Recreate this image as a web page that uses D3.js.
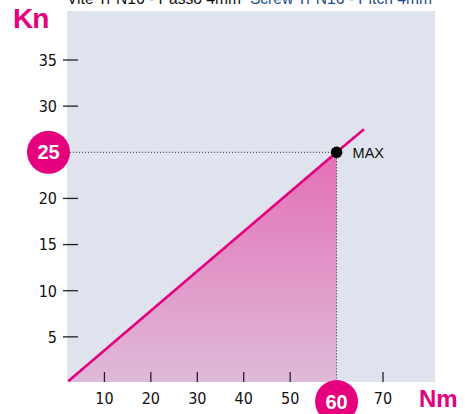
<!DOCTYPE html>
<html>
<head>
<meta charset="utf-8">
<script src="https://cdn.jsdelivr.net/npm/d3@7"></script>
<style>
  html, body { margin: 0; padding: 0; background: #ffffff; }
  svg { display: block; }
</style>
</head>
<body>
<svg id="chart" width="465" height="414"></svg>
<script>
// Load curve of the Tr N16 screw, pitch 4 mm: axial load (Kn) against torque (Nm)
const xTicks = [10, 20, 30, 40, 50, 70];
const yTicks = [5, 10, 15, 20, 30, 35];
const curveNm = [2.2, 60, 65.9];
const curveKn = [0.2, 25, 27.5];
const maxNm = 60;
const maxKn = 25;
const titleIt = "Vite Tr N16 - Passo 4mm";
const titleEn = "Screw Tr N16 - Pitch 4mm";

const W = 465, H = 414;
const plot = { left: 67, right: 435, top: 11, bottom: 382 };
const magenta = "#e5007d";
const narrow = "'Liberation Sans Narrow', 'Arial Narrow', 'DejaVu Sans Condensed', sans-serif";
const sans = "'Liberation Sans', Arial, Helvetica, sans-serif";

const svg = d3.select("#chart");

const x = d3.scaleLinear().domain([0, 70]).range([58, 383]);
const y = d3.scaleLinear().domain([0, 35]).range([383, 60]);

// Header (runs off the top edge)
const title = svg.append("text")
  .attr("x", 67).attr("y", 4)
  .attr("font-family", sans).attr("font-size", 15.6);
title.append("tspan").attr("fill", "#111").text(titleIt);
title.append("tspan").attr("fill", "#1d4f8c").attr("dx", 9).text(titleEn);

// Plot background
svg.append("rect")
  .attr("x", plot.left).attr("y", plot.top)
  .attr("width", plot.right - plot.left).attr("height", plot.bottom - plot.top)
  .attr("fill", "#dfe3ee");

svg.append("clipPath").attr("id", "plotClip")
  .append("rect")
  .attr("x", plot.left).attr("y", plot.top)
  .attr("width", plot.right - plot.left).attr("height", plot.bottom - plot.top);

// Gradient for the working area under the curve
const defs = svg.append("defs");
const grad = defs.append("linearGradient")
  .attr("id", "areaGrad").attr("x1", 0).attr("y1", 0).attr("x2", 0).attr("y2", 1);
grad.append("stop").attr("offset", "0%").attr("stop-color", "#e370b5");
grad.append("stop").attr("offset", "100%").attr("stop-color", "#dfbada");

const pts = curveNm.map((v, i) => [v, curveKn[i]]);
const areaPts = pts.filter(p => p[0] <= maxNm);

const g = svg.append("g").attr("clip-path", "url(#plotClip)");

g.append("path")
  .datum(areaPts)
  .attr("fill", "url(#areaGrad)")
  .attr("d", d3.area().x(d => x(d[0])).y0(y(0)).y1(d => y(d[1])));

// X axis tick marks (inside the plot, on the bottom edge)
svg.append("g").selectAll("line").data(xTicks).join("line")
  .attr("x1", d => x(d)).attr("x2", d => x(d))
  .attr("y1", plot.bottom - 10).attr("y2", plot.bottom)
  .attr("stroke", "#222").attr("stroke-width", 1.3);

svg.append("g").selectAll("text").data(xTicks).join("text")
  .attr("x", d => x(d)).attr("y", 404)
  .attr("text-anchor", "middle")
  .attr("font-family", narrow).attr("font-size", 16).attr("fill", "#111")
  .text(d => d);

// Y axis tick marks (straddling the left edge)
svg.append("g").selectAll("line").data(yTicks).join("line")
  .attr("x1", plot.left - 4).attr("x2", plot.left + 11)
  .attr("y1", d => y(d)).attr("y2", d => y(d))
  .attr("stroke", "#222").attr("stroke-width", 1.3);

svg.append("g").selectAll("text").data(yTicks).join("text")
  .attr("x", 57).attr("y", d => y(d) + 5.8)
  .attr("text-anchor", "end")
  .attr("font-family", narrow).attr("font-size", 16).attr("fill", "#111")
  .text(d => d);

// Dotted guides to the maximum point
svg.append("line")
  .attr("x1", 70).attr("x2", x(maxNm))
  .attr("y1", y(maxKn)).attr("y2", y(maxKn))
  .attr("stroke", "#333").attr("stroke-width", 1).attr("stroke-dasharray", "1,2");
svg.append("line")
  .attr("x1", x(maxNm)).attr("x2", x(maxNm))
  .attr("y1", y(maxKn)).attr("y2", 382)
  .attr("stroke", "#333").attr("stroke-width", 1).attr("stroke-dasharray", "1,2");

// Load curve
svg.append("path")
  .datum(pts)
  .attr("fill", "none")
  .attr("stroke", magenta).attr("stroke-width", 2.6)
  .attr("d", d3.line().x(d => x(d[0])).y(d => y(d[1])));

// Maximum point
svg.append("circle")
  .attr("cx", x(maxNm)).attr("cy", y(maxKn)).attr("r", 5.8)
  .attr("fill", "#000");
svg.append("text")
  .attr("x", x(maxNm) + 16).attr("y", y(maxKn) + 5.5)
  .attr("font-family", sans).attr("font-size", 14.5).attr("fill", "#111")
  .text("MAX");

// Highlighted values in badges
svg.append("circle").attr("cx", 48.5).attr("cy", y(maxKn)).attr("r", 21.5).attr("fill", magenta);
svg.append("text")
  .attr("x", 48.5).attr("y", y(maxKn) + 7.2)
  .attr("text-anchor", "middle")
  .attr("font-family", sans).attr("font-weight", "bold").attr("font-size", 20).attr("fill", "#fff")
  .text(maxKn);

svg.append("circle").attr("cx", x(maxNm)).attr("cy", 401.5).attr("r", 21.5).attr("fill", magenta);
svg.append("text")
  .attr("x", x(maxNm)).attr("y", 409)
  .attr("text-anchor", "middle")
  .attr("font-family", sans).attr("font-weight", "bold").attr("font-size", 20).attr("fill", "#fff")
  .text(maxNm);

// Axis units
svg.append("text")
  .attr("x", 13).attr("y", 28)
  .attr("font-family", sans).attr("font-weight", "bold").attr("font-size", 28)
  .attr("letter-spacing", -1).attr("fill", magenta)
  .text("Kn");
svg.append("text")
  .attr("x", 419).attr("y", 407)
  .attr("font-family", sans).attr("font-weight", "bold").attr("font-size", 24)
  .attr("fill", magenta)
  .text("Nm");
</script>
</body>
</html>
